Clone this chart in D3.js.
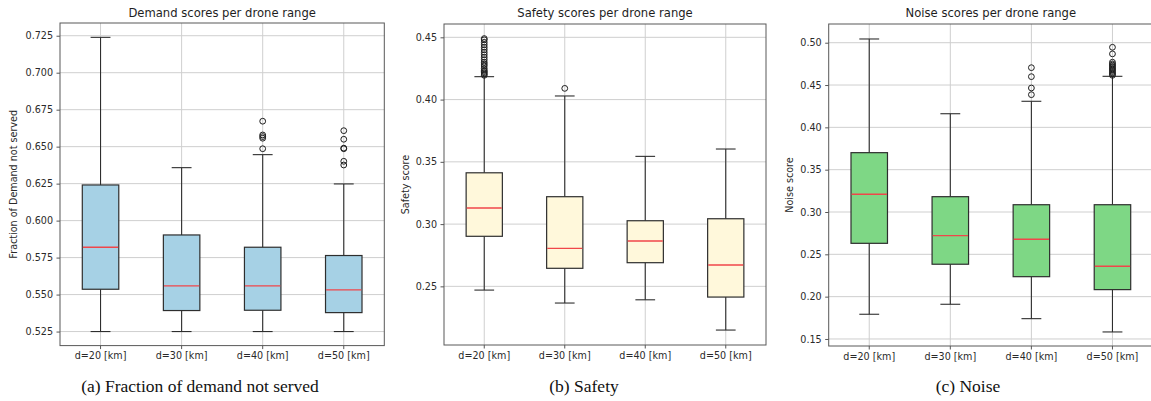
<!DOCTYPE html>
<html>
<head>
<meta charset="utf-8">
<script src="https://cdn.jsdelivr.net/npm/d3@7"></script>
<style>
  html, body { margin: 0; padding: 0; background: #fff; }
  svg { display: block; }
  .tick text { font-family: "DejaVu Sans", sans-serif; font-size: 9.6px; fill: #2a2a2a; }
</style>
</head>
<body>
<svg id="chart" width="1151" height="401"></svg>
<script>
// Drone range categories shared by all three panels
const ranges = ["d=20 [km]", "d=30 [km]", "d=40 [km]", "d=50 [km]"];

// (a) Fraction of demand not served
const demandLow      = [0.525, 0.525, 0.525, 0.525];
const demandQ1       = [0.5536, 0.5392, 0.5394, 0.5378];
const demandMedian   = [0.5820, 0.5559, 0.5559, 0.5532];
const demandQ3       = [0.6241, 0.5903, 0.5820, 0.5764];
const demandHigh     = [0.7239, 0.6358, 0.6446, 0.6248];
const demandOutliers = [[], [], [0.6486, 0.6557, 0.6568, 0.6579, 0.6672],
                        [0.6376, 0.6401, 0.6486, 0.6490, 0.6550, 0.6608]];
const demandTicks    = [0.525, 0.550, 0.575, 0.600, 0.625, 0.650, 0.675, 0.700, 0.725];

// (b) Safety
const safetyLow      = [0.2470, 0.2366, 0.2392, 0.2149];
const safetyQ1       = [0.2902, 0.2645, 0.2690, 0.2414];
const safetyMedian   = [0.3129, 0.2805, 0.2864, 0.2671];
const safetyQ3       = [0.3412, 0.3220, 0.3027, 0.3043];
const safetyHigh     = [0.4184, 0.4029, 0.3544, 0.3603];
const safetyOutliers = [[0.4195, 0.4205, 0.4215, 0.4225, 0.4235, 0.4250, 0.4270, 0.4285, 0.4300,
                         0.4320, 0.4340, 0.4360, 0.4380, 0.4400, 0.4420, 0.4440, 0.4460, 0.4480, 0.4490],
                        [0.4090], [], []];
const safetyTicks    = [0.25, 0.30, 0.35, 0.40, 0.45];

// (c) Noise
const noiseLow       = [0.1792, 0.1910, 0.1740, 0.1583];
const noiseQ1        = [0.2630, 0.2383, 0.2236, 0.2083];
const noiseMedian    = [0.3209, 0.2721, 0.2678, 0.2359];
const noiseQ3        = [0.3701, 0.3181, 0.3086, 0.3086];
const noiseHigh      = [0.5044, 0.4161, 0.4308, 0.4603];
const noiseOutliers  = [[], [], [0.4386, 0.4465, 0.4599, 0.4705],
                        [0.4615, 0.4630, 0.4645, 0.4660, 0.4675, 0.4690, 0.4705, 0.4720, 0.4735,
                         0.4750, 0.4770, 0.4868, 0.4946]];
const noiseTicks     = [0.15, 0.20, 0.25, 0.30, 0.35, 0.40, 0.45, 0.50];

const panels = [
  { title: "Demand scores per drone range", ylabel: "Fraction of Demand not served",
    caption: "(a) Fraction of demand not served", captionX: 200,
    low: demandLow, q1: demandQ1, med: demandMedian, q3: demandQ3, high: demandHigh,
    out: demandOutliers, ticks: demandTicks, fmt: d3.format(".3f"),
    fill: "#a6d1e5", left: 60, right: 384.3, top: 23, bottom: 345.6,
    domain: [0.5155, 0.7336], ylabelX: 14 },
  { title: "Safety scores per drone range", ylabel: "Safety score",
    caption: "(b) Safety", captionX: 584,
    low: safetyLow, q1: safetyQ1, med: safetyMedian, q3: safetyQ3, high: safetyHigh,
    out: safetyOutliers, ticks: safetyTicks, fmt: d3.format(".2f"),
    fill: "#fff8db", left: 444, right: 766, top: 24, bottom: 345,
    domain: [0.2029, 0.4607], ylabelX: 406 },
  { title: "Noise scores per drone range", ylabel: "Noise score",
    caption: "(c) Noise", captionX: 968,
    low: noiseLow, q1: noiseQ1, med: noiseMedian, q3: noiseQ3, high: noiseHigh,
    out: noiseOutliers, ticks: noiseTicks, fmt: d3.format(".2f"),
    fill: "#7ed785", left: 828.7, right: 1153, top: 24, bottom: 346,
    domain: [0.1417, 0.5221], ylabelX: 790 }
];

const svg = d3.select("#chart");
svg.append("rect").attr("width", 1151).attr("height", 401).attr("fill", "#fff");

const edge = "#2e2e2e";
const gridColor = "#cfcfcf";

panels.forEach(p => {
  const x = d3.scaleBand().domain(ranges).range([p.left, p.right]).padding(0);
  const y = d3.scaleLinear().domain(p.domain).range([p.bottom, p.top]);
  const cx = c => x(c) + x.bandwidth() / 2;
  const boxW = x.bandwidth() * 0.45;
  const capW = x.bandwidth() * 0.245;

  const g = svg.append("g");

  // grid lines
  g.append("g").selectAll("line.hg").data(p.ticks).join("line")
    .attr("x1", p.left).attr("x2", p.right)
    .attr("y1", d => y(d)).attr("y2", d => y(d))
    .attr("stroke", gridColor).attr("stroke-width", 1);
  g.append("g").selectAll("line.vg").data(ranges).join("line")
    .attr("x1", d => cx(d)).attr("x2", d => cx(d))
    .attr("y1", p.top).attr("y2", p.bottom)
    .attr("stroke", gridColor).attr("stroke-width", 1);

  // boxes
  const items = ranges.map((r, i) => ({
    r, low: p.low[i], q1: p.q1[i], med: p.med[i], q3: p.q3[i], high: p.high[i], out: p.out[i]
  }));
  const bx = g.append("g").selectAll("g").data(items).join("g");

  // whiskers
  bx.append("line").attr("x1", d => cx(d.r)).attr("x2", d => cx(d.r))
    .attr("y1", d => y(d.q3)).attr("y2", d => y(d.high))
    .attr("stroke", edge).attr("stroke-width", 1.1);
  bx.append("line").attr("x1", d => cx(d.r)).attr("x2", d => cx(d.r))
    .attr("y1", d => y(d.q1)).attr("y2", d => y(d.low))
    .attr("stroke", edge).attr("stroke-width", 1.1);
  // caps
  bx.append("line").attr("x1", d => cx(d.r) - capW / 2).attr("x2", d => cx(d.r) + capW / 2)
    .attr("y1", d => y(d.high)).attr("y2", d => y(d.high))
    .attr("stroke", edge).attr("stroke-width", 1.1);
  bx.append("line").attr("x1", d => cx(d.r) - capW / 2).attr("x2", d => cx(d.r) + capW / 2)
    .attr("y1", d => y(d.low)).attr("y2", d => y(d.low))
    .attr("stroke", edge).attr("stroke-width", 1.1);
  // box body
  bx.append("rect")
    .attr("x", d => cx(d.r) - boxW / 2).attr("width", boxW)
    .attr("y", d => y(d.q3)).attr("height", d => y(d.q1) - y(d.q3))
    .attr("fill", p.fill).attr("stroke", edge).attr("stroke-width", 1.2);
  // median
  bx.append("line").attr("x1", d => cx(d.r) - boxW / 2 + 0.6).attr("x2", d => cx(d.r) + boxW / 2 - 0.6)
    .attr("y1", d => y(d.med)).attr("y2", d => y(d.med))
    .attr("stroke", "#f0464a").attr("stroke-width", 1.4);
  // outliers
  bx.each(function(d) {
    d3.select(this).selectAll("circle").data(d.out).join("circle")
      .attr("cx", cx(d.r)).attr("cy", v => y(v)).attr("r", 2.9)
      .attr("fill", "none").attr("stroke", "#1e1e1e").attr("stroke-width", 1);
  });

  // axes
  const yAxis = d3.axisLeft(y).tickValues(p.ticks).tickFormat(p.fmt).tickSize(3.5).tickPadding(3.5);
  const ya = g.append("g").attr("transform", `translate(${p.left},0)`).call(yAxis);
  const xAxis = d3.axisBottom(x).tickSize(3.5).tickPadding(3.5);
  const xa = g.append("g").attr("transform", `translate(0,${p.bottom})`).call(xAxis);
  [ya, xa].forEach(a => {
    a.select(".domain").remove();
    a.selectAll(".tick line").attr("stroke", "#444").attr("stroke-width", 0.9);
  });

  // frame
  g.append("rect").attr("x", p.left).attr("y", p.top)
    .attr("width", p.right - p.left).attr("height", p.bottom - p.top)
    .attr("fill", "none").attr("stroke", "#585858").attr("stroke-width", 1);

  // title
  g.append("text").attr("x", (p.left + p.right) / 2).attr("y", 16.5)
    .attr("text-anchor", "middle")
    .style("font-family", "'DejaVu Sans', sans-serif").style("font-size", "11.6px")
    .attr("fill", "#1e1e1e").text(p.title);

  // y label
  g.append("text")
    .attr("transform", `translate(${p.ylabelX},${(p.top + p.bottom) / 2}) rotate(-90)`)
    .attr("text-anchor", "middle").attr("dy", "0.35em")
    .style("font-family", "'DejaVu Sans', sans-serif").style("font-size", "9.6px")
    .attr("fill", "#2a2a2a").text(p.ylabel);

  // caption
  g.append("text").attr("x", p.captionX).attr("y", 392)
    .attr("text-anchor", "middle")
    .style("font-family", "'Liberation Serif', 'Times New Roman', serif").style("font-size", "17.5px")
    .attr("fill", "#111").text(p.caption);
});
</script>
</body>
</html>
